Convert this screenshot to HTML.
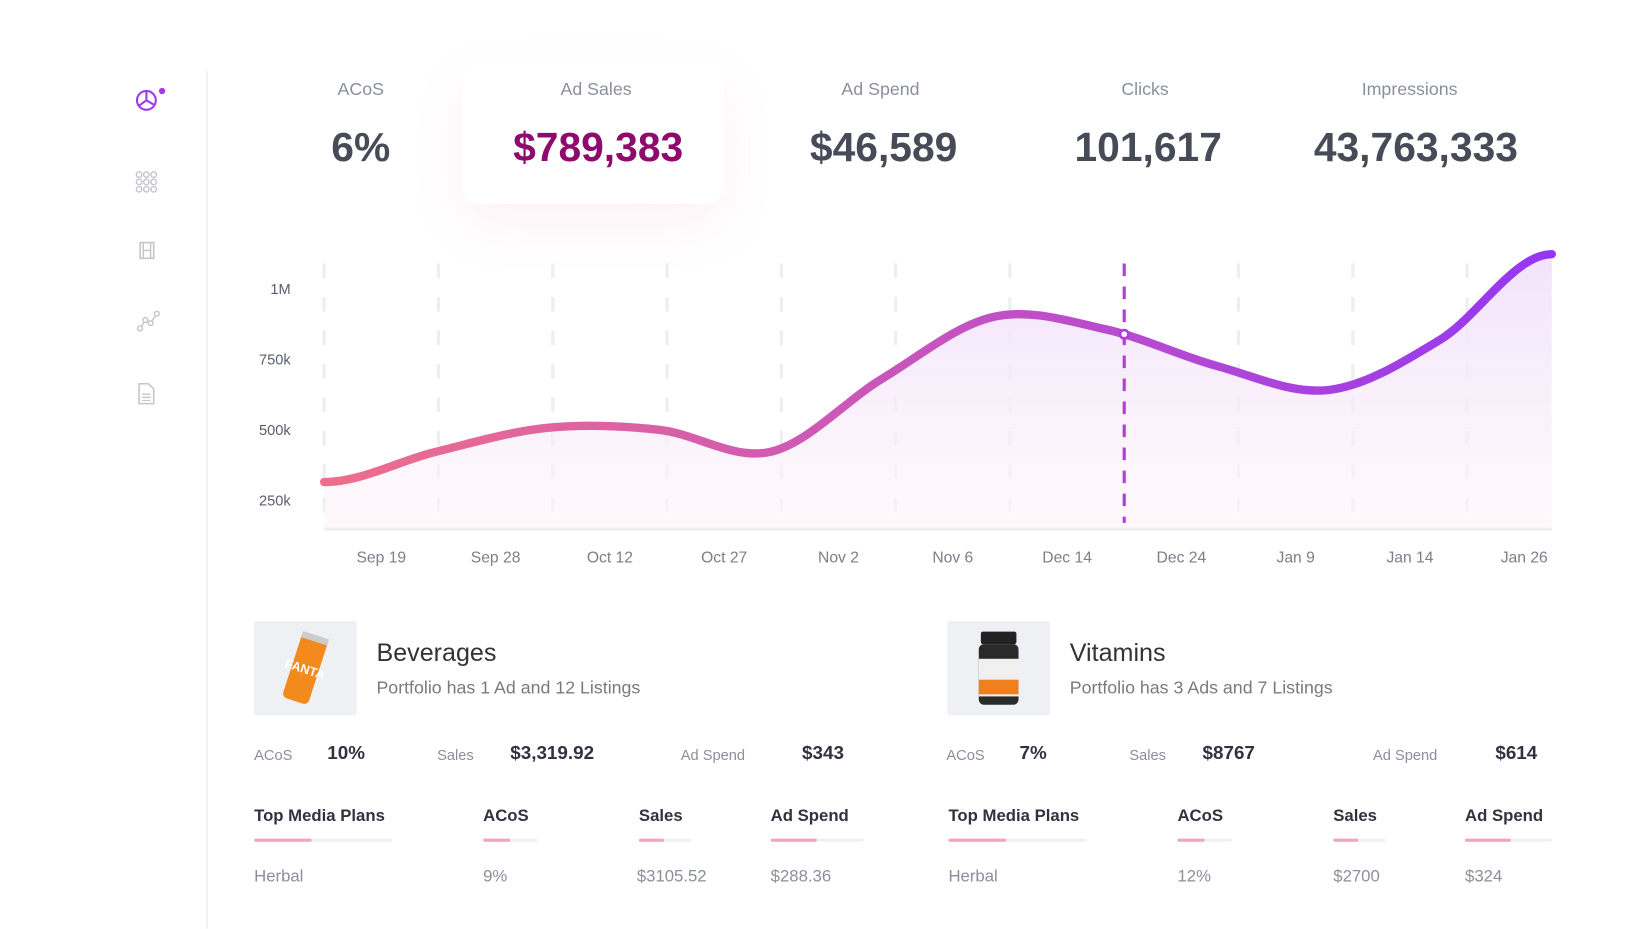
<!DOCTYPE html>
<html><head><meta charset="utf-8"><style>
html,body{margin:0;padding:0;background:#fff;width:1640px;height:924px;overflow:hidden;font-family:"Liberation Sans",sans-serif}
#wrap{position:absolute;left:0;top:0;width:1568px;height:884px;transform:scale(1.0457);transform-origin:0 0}
.a{position:absolute;white-space:nowrap}
.lbl{color:#8a8f9c;font-size:17px;transform:translateX(-50%)}
.val{color:#474b57;font-size:39px;font-weight:bold;transform:translateX(-50%)}
.t{color:#333;font-size:24px}
.s{color:#7a7a7a;font-size:17px}
.ml{color:#8a8f9c;font-size:14px}
.mv{color:#2f3340;font-size:18px;font-weight:bold}
.th{color:#2f3340;font-size:16px;font-weight:bold}
.td{color:#8a8f9c;font-size:16px}
.trk{position:absolute;height:3px;background:#eef0f3;border-radius:2px}
.trk i{position:absolute;left:0;top:0;height:3px;background:#f2a6b8;border-radius:2px}
.img{position:absolute;width:98px;height:90px;background:#eef0f3}
#bottom{position:absolute;left:0;top:3px;width:1568px;height:880px}
</style></head><body><div id="wrap">
<div class="a" style="left:197px;top:68px;width:2px;height:820px;background:#f1f2f5"></div>
<svg class="a" style="left:128px;top:82px" width="32" height="28"><circle cx="12" cy="14" r="9" fill="none" stroke="#9b3cf0" stroke-width="2"/><path d="M12 5V14L5 19M12 14L19 18" stroke="#9b3cf0" stroke-width="2" fill="none"/><circle cx="27" cy="5" r="3" fill="#9b3cf0"/></svg>
<svg class="a" style="left:129px;top:163px" width="24" height="22"><g fill="none" stroke="#c4c6cc" stroke-width="1.4"><circle cx="4" cy="4" r="2.6"/><circle cx="11" cy="4" r="2.6"/><circle cx="18" cy="4" r="2.6"/><circle cx="4" cy="11" r="2.6"/><circle cx="11" cy="11" r="2.6"/><circle cx="18" cy="11" r="2.6"/><circle cx="4" cy="18" r="2.6"/><circle cx="11" cy="18" r="2.6"/><circle cx="18" cy="18" r="2.6"/></g></svg>
<svg class="a" style="left:133px;top:231px" width="16" height="18"><rect x="1" y="1" width="13" height="15" fill="none" stroke="#c4c6cc" stroke-width="1.6"/><path d="M4 1V16M11 1V16M4 8.5H11" stroke="#c4c6cc" stroke-width="1.4"/></svg>
<svg class="a" style="left:130px;top:296px" width="24" height="22"><path d="M4 18L9 10L14 13L20 4" stroke="#c4c6cc" stroke-width="1.4" fill="none"/><g fill="#fff" stroke="#c4c6cc" stroke-width="1.4"><circle cx="4" cy="18" r="2.3"/><circle cx="9" cy="10" r="2.3"/><circle cx="14" cy="13" r="2.3"/><circle cx="20" cy="4" r="2.3"/></g></svg>
<svg class="a" style="left:131px;top:366px" width="18" height="22"><path d="M2 1H11L16 6V20H2Z" fill="none" stroke="#c4c6cc" stroke-width="1.5"/><path d="M5 11H13M5 14H13M5 17H13" stroke="#c4c6cc" stroke-width="1.3"/></svg>

<div class="a" style="left:442px;top:60px;width:250px;height:135px;border-radius:16px;background:#fff;box-shadow:0 20px 50px rgba(240,120,160,0.10)"></div>
<div class="a lbl" style="left:345px;top:76px">ACoS</div>
<div class="a val" style="left:345px;top:120px">6%</div>
<div class="a lbl" style="left:570px;top:76px">Ad Sales</div>
<div class="a val" style="left:572px;top:120px;color:#8e0a6c">$789,383</div>
<div class="a lbl" style="left:842px;top:76px">Ad Spend</div>
<div class="a val" style="left:845px;top:120px">$46,589</div>
<div class="a lbl" style="left:1095px;top:76px">Clicks</div>
<div class="a val" style="left:1098px;top:120px">101,617</div>
<div class="a lbl" style="left:1348px;top:76px">Impressions</div>
<div class="a val" style="left:1354px;top:120px">43,763,333</div>

<svg id="chart" class="a" style="left:0;top:0" width="1560" height="560"></svg>

<div id="bottom">
<div class="img" style="left:243px;top:591px"><svg width="98" height="90"><g transform="rotate(18 49 45)"><rect x="36" y="12" width="26" height="66" rx="5" fill="#f28a1e"/><rect x="36" y="12" width="26" height="6" fill="#ccc"/><text x="49" y="50" font-size="12" font-weight="bold" fill="#fff" text-anchor="middle" font-family="Liberation Sans">FANTA</text></g></svg></div>
<div class="a t" style="left:360px;top:608px">Beverages</div>
<div class="a s" style="left:360px;top:645px">Portfolio has 1 Ad and 12 Listings</div>
<div class="a ml" style="left:243px;top:711px">ACoS</div>
<div class="a mv" style="left:313px;top:707px">10%</div>
<div class="a ml" style="left:418px;top:711px">Sales</div>
<div class="a mv" style="left:488px;top:707px">$3,319.92</div>
<div class="a ml" style="left:651px;top:711px">Ad Spend</div>
<div class="a mv" style="left:767px;top:707px">$343</div>
<div class="a th" style="left:243px;top:769px">Top Media Plans</div>
<div class="a th" style="left:462px;top:769px">ACoS</div>
<div class="a th" style="left:611px;top:769px">Sales</div>
<div class="a th" style="left:737px;top:769px">Ad Spend</div>
<div class="trk" style="left:243px;top:799px;width:132px"><i style="width:55px"></i></div>
<div class="trk" style="left:462px;top:799px;width:52px"><i style="width:26px"></i></div>
<div class="trk" style="left:611px;top:799px;width:50px"><i style="width:24px"></i></div>
<div class="trk" style="left:737px;top:799px;width:89px"><i style="width:44px"></i></div>
<div class="a td" style="left:243px;top:827px">Herbal</div>
<div class="a td" style="left:462px;top:827px">9%</div>
<div class="a td" style="left:609px;top:827px">$3105.52</div>
<div class="a td" style="left:737px;top:827px">$288.36</div>

<div class="img" style="left:906px;top:591px"><svg width="98" height="90"><rect x="32" y="10" width="34" height="12" rx="2" fill="#222"/><rect x="30" y="22" width="38" height="58" rx="5" fill="#2a2a2a"/><rect x="30" y="36" width="38" height="36" fill="#f0f0f0"/><rect x="30" y="56" width="38" height="14" fill="#f07f1e"/></svg></div>
<div class="a t" style="left:1023px;top:608px">Vitamins</div>
<div class="a s" style="left:1023px;top:645px">Portfolio has 3 Ads and 7 Listings</div>
<div class="a ml" style="left:905px;top:711px">ACoS</div>
<div class="a mv" style="left:975px;top:707px">7%</div>
<div class="a ml" style="left:1080px;top:711px">Sales</div>
<div class="a mv" style="left:1150px;top:707px">$8767</div>
<div class="a ml" style="left:1313px;top:711px">Ad Spend</div>
<div class="a mv" style="left:1430px;top:707px">$614</div>
<div class="a th" style="left:907px;top:769px">Top Media Plans</div>
<div class="a th" style="left:1126px;top:769px">ACoS</div>
<div class="a th" style="left:1275px;top:769px">Sales</div>
<div class="a th" style="left:1401px;top:769px">Ad Spend</div>
<div class="trk" style="left:907px;top:799px;width:132px"><i style="width:55px"></i></div>
<div class="trk" style="left:1126px;top:799px;width:52px"><i style="width:26px"></i></div>
<div class="trk" style="left:1275px;top:799px;width:50px"><i style="width:24px"></i></div>
<div class="trk" style="left:1401px;top:799px;width:83px"><i style="width:44px"></i></div>
<div class="a td" style="left:907px;top:827px">Herbal</div>
<div class="a td" style="left:1126px;top:827px">12%</div>
<div class="a td" style="left:1275px;top:827px">$2700</div>
<div class="a td" style="left:1401px;top:827px">$324</div>
</div>
</div>
<script>
const categories=["Sep 19","Sep 28","Oct 12","Oct 27","Nov 2","Nov 6","Dec 14","Dec 24","Jan 9","Jan 14","Jan 26"];
const salesValues=[315,422,507,500,422,681,900,856,726,641,819,1122];
const yTicks=[250,500,750,1000];
const yTickLabels=["250k","500k","750k","1M"];
const highlightIndex=7;
const NS="http://www.w3.org/2000/svg";
const svg=document.getElementById('chart');
const x0=310,x1=1484,gridStep=109.3;
const yS=v=>546-v/250*67.5;
const xP=i=>x0+i*(x1-x0)/(salesValues.length-1);
const gx=i=>x0+i*gridStep;
function mk(tag,attrs){const e=document.createElementNS(NS,tag);for(const k in attrs)e.setAttribute(k,attrs[k]);svg.appendChild(e);return e;}
svg.innerHTML='<defs><linearGradient id="lg" x1="0" x2="1"><stop offset="0" stop-color="#ee6f8a"/><stop offset="0.5" stop-color="#c653c0"/><stop offset="1" stop-color="#9537f2"/></linearGradient><linearGradient id="ag" x1="0" y1="0" x2="0" y2="1"><stop offset="0" stop-color="#efe0fb" stop-opacity="0.9"/><stop offset="1" stop-color="#fff5f9" stop-opacity="0.6"/></linearGradient></defs>';
for(let i=0;i<=categories.length-1;i++){
  if(i===highlightIndex)continue;
  const g=mk('line',{x1:gx(i),x2:gx(i),y1:252,y2:500,stroke:'#eceef2','stroke-width':3,'stroke-dasharray':'14 18'});
  
  
}
yTicks.forEach((v,i)=>{const t=mk('text',{x:278,y:yS(v)+5,'text-anchor':'end','font-size':14,fill:'#5a5f6c'});t.textContent=yTickLabels[i];

});
categories.forEach((c,i)=>{const t=mk('text',{x:gx(i)+gridStep/2,y:538,'text-anchor':'middle','font-size':15,fill:'#7a7f8c'});t.textContent=c;

});
const pts=salesValues.map((v,i)=>[xP(i),yS(v)]);
const n=pts.length;
const tan=pts.map((p,i)=>{if(i===0||i===n-1)return [0,0];return [(pts[i+1][0]-pts[i-1][0])/2,(pts[i+1][1]-pts[i-1][1])/2];});
tan[0]=[(pts[1][0]-pts[0][0]),0];tan[n-1]=[(pts[n-1][0]-pts[n-2][0]),0];
let d='M'+pts[0][0]+','+pts[0][1];
for(let i=0;i<n-1;i++){const p1=pts[i],p2=pts[i+1];
 d+=` C${p1[0]+tan[i][0]/3},${p1[1]+tan[i][1]/3} ${p2[0]-tan[i+1][0]/3},${p2[1]-tan[i+1][1]/3} ${p2[0]},${p2[1]}`;}
const area=mk('path',{d:d+` L${x1},504 L${x0},504 Z`,fill:'url(#ag)'});


const ax=mk('line',{x1:x0,x2:x1,y1:506,y2:506,stroke:'#eceef2','stroke-width':3});


const hx=gx(highlightIndex);
const hl=mk('line',{x1:hx,x2:hx,y1:252,y2:500,stroke:'#b13fd6','stroke-width':3,'stroke-dasharray':'12 10'});


const line=mk('path',{d:d,fill:'none',stroke:'url(#lg)','stroke-width':8,'stroke-linecap':'round'});


let lo=0,hi=line.getTotalLength();
for(let k=0;k<40;k++){const m=(lo+hi)/2;if(line.getPointAtLength(m).x<hx)lo=m;else hi=m;}
const pp=line.getPointAtLength(lo);
const mkr=mk('circle',{cx:hx,cy:pp.y,r:4,fill:'#fff',stroke:'#b13fd6','stroke-width':2.5});


</script>
</body></html>
